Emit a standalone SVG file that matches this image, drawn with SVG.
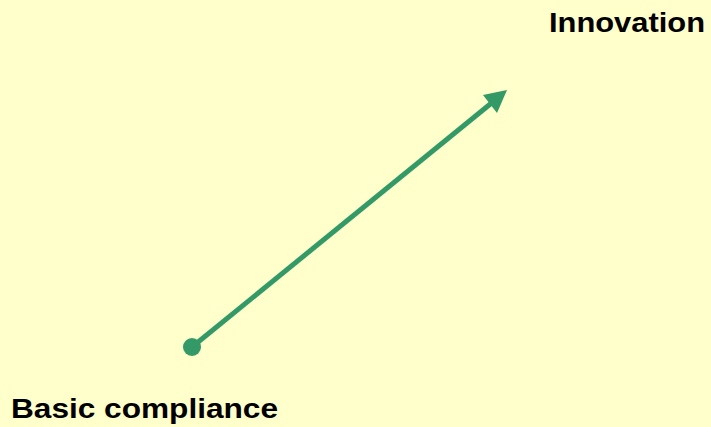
<svg xmlns="http://www.w3.org/2000/svg" width="711" height="427" viewBox="0 0 711 427">
<style>
.lbl{font-family:"Liberation Sans",Arial,sans-serif;font-weight:bold;font-size:28px;fill:#000}
</style>
<rect width="711" height="427" fill="#FFFFCC"/>
<g id="connectors">
<line x1="192" y1="347" x2="494" y2="101" stroke="#339966" stroke-width="5"/>
<polygon points="507,90 483,95 497,113" fill="#339966"/>
<circle cx="192" cy="347" r="9" fill="#339966"/>
</g>
<g id="innovation"><text class="lbl" x="549" y="32" textLength="156" lengthAdjust="spacingAndGlyphs">Innovation</text></g>
<g id="basic"><text class="lbl" x="11" y="418" textLength="267" lengthAdjust="spacingAndGlyphs">Basic compliance</text></g>
</svg>
